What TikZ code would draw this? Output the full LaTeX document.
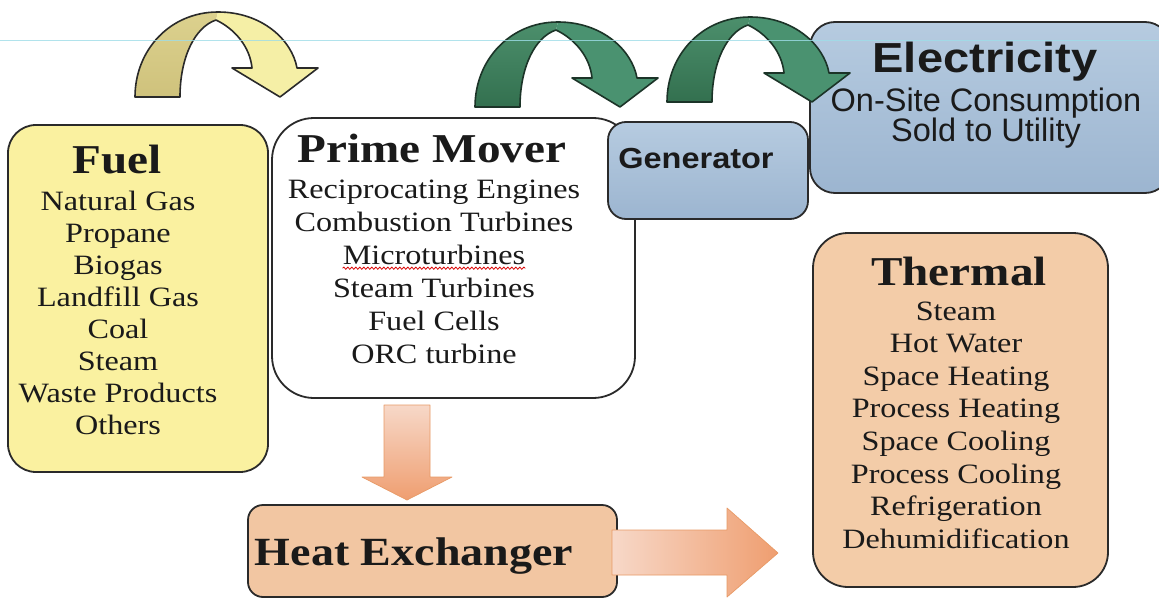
\documentclass[tikz,border=0pt]{standalone}
\usepackage{fontspec}
\setmainfont{Liberation Serif}[FakeStretch=1.15]
\newfontfamily\sansR{Liberation Sans}
\newfontfamily\sansB{Liberation Sans}[FakeStretch=1.12]
\usetikzlibrary{decorations.pathmorphing}
\definecolor{fuelY}{HTML}{FAF1A0}
\definecolor{boxline}{HTML}{2A2A2A}
\definecolor{bluetop}{HTML}{B6CBE0}
\definecolor{bluebot}{HTML}{9CB5D0}
\definecolor{thermF}{HTML}{F3CCA8}
\definecolor{hxF}{HTML}{F2C6A2}
\definecolor{pkA}{HTML}{F7D8C8}
\definecolor{pkB}{HTML}{EF9E70}
\definecolor{pkLine}{HTML}{E89A66}
\definecolor{grBackA}{HTML}{33704F}
\definecolor{grBackB}{HTML}{4C8F6C}
\definecolor{grFront}{HTML}{4A9270}
\definecolor{grLine}{HTML}{1C3428}
\definecolor{yeBackA}{HTML}{CFC27C}
\definecolor{yeBackB}{HTML}{DCD18E}
\definecolor{yeFront}{HTML}{F5EFA6}
\definecolor{txt}{HTML}{1A1A1A}
\definecolor{scanline}{HTML}{9EDDE8}
\newcommand\curvarrow[6]{%
  \begin{scope}[shift={(#1,#2)}]
    \path[bottom color=#3, top color=#4] (0,0) .. controls (0,-47) and (35,-85) .. (83,-85) -- (81,-77) .. controls (60,-70) and (45,-40) .. (45,0) -- cycle;
    \path[fill=#5] (83,-85) .. controls (127,-85) and (157,-57) .. (162,-29) -- (183,-29) -- (145,0) -- (97,-29) -- (117,-29) .. controls (115,-50) and (100,-68) .. (81,-77) -- cycle;
    \draw[draw=#6, line width=1.6pt, line join=round] (0,0) .. controls (0,-47) and (35,-85) .. (83,-85) .. controls (127,-85) and (157,-57) .. (162,-29) -- (183,-29) -- (145,0) -- (97,-29) -- (117,-29) .. controls (115,-50) and (100,-68) .. (81,-77) .. controls (60,-70) and (45,-40) .. (45,0) -- cycle;
  \end{scope}}
\begin{document}
\begin{tikzpicture}[x=1pt,y=-1pt,
  box/.style={draw=boxline, line width=1.8pt, rounded corners=#1, inner sep=0pt},
  bluebox/.style={box=#1, top color=bluetop, bottom color=bluebot},
  ttl/.style={anchor=base, inner sep=0pt, text=txt, font=\fontsize{41}{45}\selectfont\bfseries},
  itm/.style={anchor=base, inner sep=0pt, text=txt, font=\fontsize{28}{32}\selectfont}]
\useasboundingbox (0,0) rectangle (1159,599);
\clip (0,0) rectangle (1159,599);
\fill[white] (0,0) rectangle (1159,599);

% boxes
\node[box=28, fill=fuelY, minimum width=260, minimum height=347] (fuel) at (138,298.5) {};
\node[box=42, fill=white, minimum width=363, minimum height=280] (prime) at (453.5,258) {};
\node[bluebox=25, minimum width=360, minimum height=171] (elec) at (990,107.5) {};
\node[bluebox=18, minimum width=200, minimum height=97] (gen) at (708,170.5) {};
\node[box=35, fill=thermF, minimum width=295, minimum height=354] (therm) at (960.5,410) {};
\node[box=15, fill=hxF, minimum width=369, minimum height=92] (hx) at (432.5,551) {};

% Fuel text
\node[ttl] (fuelT) at (117,173) {Fuel};
\foreach \t [count=\i] in {Natural Gas,Propane,Biogas,Landfill Gas,Coal,Steam,Waste Products,Others}
  \node[itm] (fuel-\i) at (118,{210+32.1*(\i-1)}) {\t};

% Prime mover text
\node[ttl] (primeT) at (432,163) {Prime Mover};
\foreach \t [count=\i] in {Reciprocating Engines,Combustion Turbines,Microturbines,Steam Turbines,Fuel Cells,ORC turbine}
  \node[itm] (pm-\i) at (434,{198+33.1*(\i-1)}) {\t};
\draw[red!85!black, line width=0.8pt, decorate, decoration={snake, segment length=4pt, amplitude=1.1pt}]
  ([yshift=-4pt]pm-3.base west) -- ([yshift=-4pt]pm-3.base east);

% Thermal text
\node[ttl] (thermT) at (959,285) {Thermal};
\foreach \t [count=\i] in {Steam,Hot Water,Space Heating,Process Heating,Space Cooling,Process Cooling,Refrigeration,Dehumidification}
  \node[itm] (th-\i) at (956,{320+32.6*(\i-1)}) {\t};

% Electricity text
\node[anchor=base, inner sep=0pt, text=txt, font=\sansB\bfseries\fontsize{42}{46}\selectfont] (elecT) at (985,73) {Electricity};
\node[anchor=base, inner sep=0pt, text=txt, font=\sansR\fontsize{32.5}{34}\selectfont] (el-1) at (986,112) {On-Site Consumption};
\node[anchor=base, inner sep=0pt, text=txt, font=\sansR\fontsize{32.5}{34}\selectfont] (el-2) at (986,142) {Sold to Utility};

% Generator text
\node[anchor=base, inner sep=0pt, text=txt, font=\sansB\bfseries\fontsize{29}{32}\selectfont] (genT) at (696,168) {Generator};

% Heat exchanger text
\node[anchor=base, inner sep=0pt, text=txt, font=\fontsize{40}{44}\selectfont\bfseries] (hxT) at (414,565) {Heat Exchanger};

% block arrows
\path[top color=pkA, bottom color=pkB] (384,405) -- (430,405) -- (430,477) -- (452,477) -- (407,500) -- (362,477) -- (384,477) -- cycle;
\draw[pkLine, line width=0.7pt, line join=round] (384,405) -- (430,405) -- (430,477) -- (452,477) -- (407,500) -- (362,477) -- (384,477) -- cycle;
\path[left color=pkA, right color=pkB] (612,530) -- (727,530) -- (727,508) -- (778,553) -- (727,597) -- (727,575) -- (612,575) -- cycle;
\draw[pkLine, line width=0.7pt, line join=round] (612,530) -- (727,530) -- (727,508) -- (778,553) -- (727,597) -- (727,575) -- (612,575) -- cycle;

% curved arrows
\curvarrow{135}{97}{yeBackA}{yeBackB}{yeFront}{boxline}
\curvarrow{475}{107}{grBackA}{grBackB}{grFront}{grLine}
\curvarrow{667}{102}{grBackA}{grBackB}{grFront}{grLine}

% scan line
\draw[scanline, line width=0.8pt, opacity=0.8] (0,40) -- (1159,40);
\end{tikzpicture}
\end{document}
